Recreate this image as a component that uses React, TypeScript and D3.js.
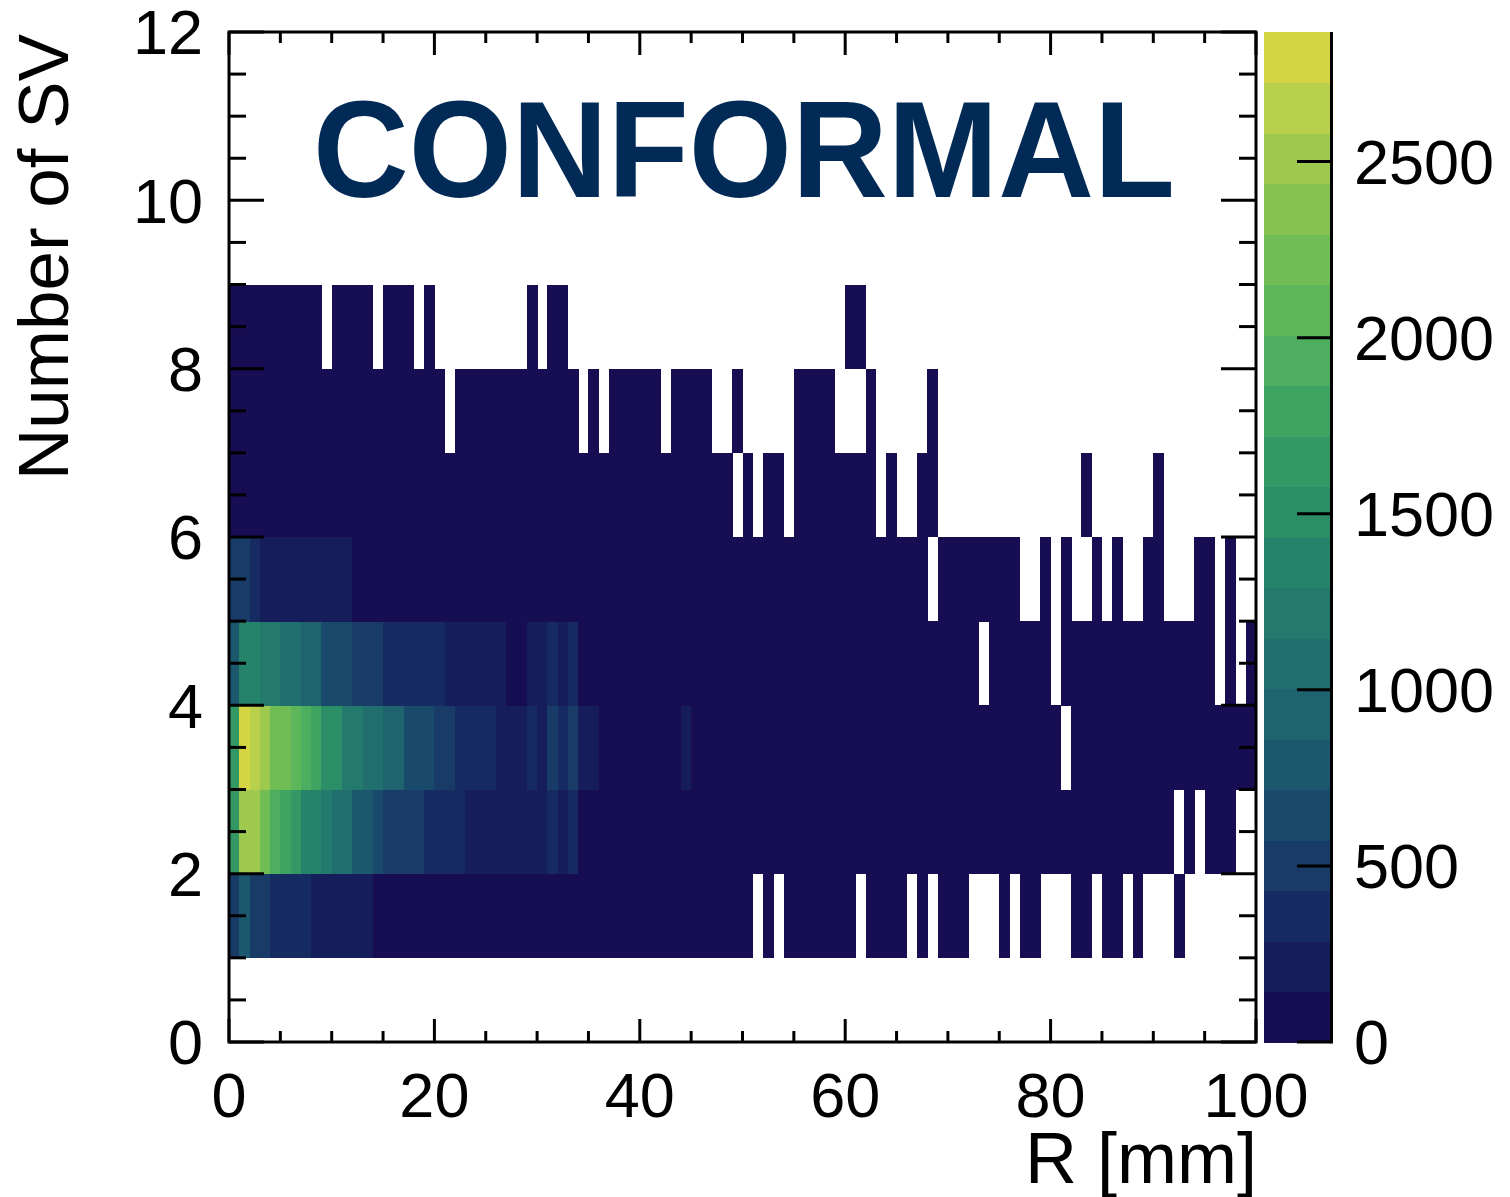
import React from "react";
import * as d3 from "d3";

// Number of secondary vertices (row lower edge) and bin contents for R bins 0..99 mm (1 mm wide)
const nsv1 = [
  500, 790, 480, 450, 380, 340, 320, 300, 270, 250,
  230, 210, 190, 170, 140, 120, 105, 95, 85, 75,
  68, 60, 55, 50, 45, 42, 38, 35, 32, 30,
  28, 26, 24, 22, 20, 19, 18, 17, 16, 15,
  14, 13, 12, 11, 10, 9, 9, 8, 8, 7,
  7, 0, 6, 0, 6, 5, 5, 4, 4, 4,
  3, 0, 3, 3, 2, 2, 0, 2, 0, 2,
  1, 1, 0, 0, 0, 1, 0, 1, 1, 0,
  0, 0, 1, 1, 0, 1, 1, 0, 1, 0,
  0, 0, 1, 0, 0, 0, 0, 0, 0, 0,
];
const nsv2 = [
  1650, 2510, 2480, 2230, 1950, 1800, 1660, 1380, 1350, 1230,
  1090, 1060, 800, 780, 660, 560, 530, 500, 470, 420,
  390, 370, 340, 280, 270, 260, 250, 240, 230, 220,
  200, 300, 210, 290, 140, 130, 120, 110, 100, 95,
  90, 85, 80, 75, 70, 66, 62, 58, 55, 52,
  49, 46, 43, 40, 38, 36, 34, 32, 30, 28,
  26, 25, 24, 22, 21, 20, 19, 18, 17, 16,
  15, 14, 13, 12, 12, 11, 10, 10, 9, 9,
  8, 8, 7, 7, 6, 6, 5, 5, 5, 4,
  4, 3, 0, 3, 0, 2, 2, 2, 0, 0,
];
const nsv3 = [
  1700, 2868, 2700, 2550, 2280, 2240, 2100, 1980, 1830, 1560,
  1520, 1260, 1230, 1110, 1080, 970, 940, 700, 670, 650,
  560, 520, 420, 400, 380, 360, 280, 250, 230, 300,
  220, 450, 330, 440, 200, 170, 140, 130, 120, 110,
  100, 95, 90, 85, 150, 75, 70, 66, 62, 58,
  55, 52, 49, 46, 43, 40, 38, 36, 34, 32,
  30, 28, 26, 25, 24, 22, 21, 20, 19, 18,
  17, 16, 15, 14, 13, 12, 12, 11, 10, 10,
  9, 0, 9, 8, 8, 7, 7, 6, 6, 5,
  5, 5, 4, 4, 4, 3, 3, 3, 2, 2,
];
const nsv4 = [
  800, 1400, 1370, 1250, 1230, 1100, 1080, 960, 940, 700,
  680, 660, 560, 530, 500, 420, 400, 380, 360, 340,
  320, 280, 270, 260, 240, 230, 220, 130, 120, 200,
  190, 300, 180, 290, 110, 100, 95, 90, 85, 80,
  75, 70, 66, 62, 58, 55, 52, 49, 46, 43,
  40, 38, 36, 34, 32, 30, 28, 26, 25, 24,
  22, 21, 20, 19, 18, 17, 16, 15, 14, 13,
  12, 12, 11, 0, 10, 10, 9, 9, 8, 8,
  0, 7, 7, 6, 6, 5, 5, 5, 4, 4,
  4, 3, 3, 3, 2, 2, 0, 2, 0, 1,
];
const nsv5 = [
  520, 500, 400, 280, 270, 260, 250, 240, 230, 220,
  200, 190, 140, 130, 120, 110, 100, 95, 90, 85,
  80, 75, 70, 66, 62, 58, 55, 52, 49, 46,
  43, 40, 38, 36, 34, 32, 30, 28, 26, 25,
  24, 22, 21, 20, 19, 18, 17, 16, 15, 14,
  13, 12, 12, 11, 10, 10, 9, 9, 8, 8,
  7, 7, 6, 6, 5, 5, 5, 4, 0, 4,
  4, 3, 3, 3, 2, 2, 2, 0, 0, 2,
  0, 1, 0, 0, 1, 0, 1, 0, 0, 1,
  1, 0, 0, 0, 1, 1, 0, 1, 0, 0,
];
const nsv6 = [
  120, 110, 100, 95, 90, 85, 80, 75, 70, 66,
  62, 58, 55, 52, 49, 46, 43, 40, 38, 36,
  34, 32, 30, 28, 26, 25, 24, 22, 21, 20,
  19, 18, 17, 16, 15, 14, 13, 12, 12, 11,
  10, 10, 9, 9, 8, 8, 7, 7, 6, 0,
  6, 0, 5, 5, 0, 4, 4, 4, 3, 3,
  3, 2, 2, 0, 2, 0, 0, 1, 1, 0,
  0, 0, 0, 0, 0, 0, 0, 0, 0, 0,
  0, 0, 0, 1, 0, 0, 0, 0, 0, 0,
  1, 0, 0, 0, 0, 0, 0, 0, 0, 0,
];
const nsv7 = [
  40, 38, 36, 34, 32, 30, 28, 26, 25, 24,
  22, 21, 20, 19, 18, 17, 16, 15, 14, 13,
  12, 0, 11, 10, 10, 9, 9, 8, 8, 7,
  7, 6, 6, 5, 0, 5, 0, 4, 4, 4,
  3, 3, 0, 3, 2, 2, 2, 0, 0, 2,
  0, 0, 0, 0, 0, 1, 1, 1, 1, 0,
  0, 0, 1, 0, 0, 0, 0, 0, 1, 0,
  0, 0, 0, 0, 0, 0, 0, 0, 0, 0,
  0, 0, 0, 0, 0, 0, 0, 0, 0, 0,
  0, 0, 0, 0, 0, 0, 0, 0, 0, 0,
];
const nsv8 = [
  12, 11, 10, 9, 8, 8, 7, 6, 6, 0,
  5, 5, 4, 4, 0, 3, 3, 3, 0, 2,
  0, 0, 0, 0, 0, 0, 0, 0, 0, 1,
  0, 1, 1, 0, 0, 0, 0, 0, 0, 0,
  0, 0, 0, 0, 0, 0, 0, 0, 0, 0,
  0, 0, 0, 0, 0, 0, 0, 0, 0, 0,
  1, 1, 0, 0, 0, 0, 0, 0, 0, 0,
  0, 0, 0, 0, 0, 0, 0, 0, 0, 0,
  0, 0, 0, 0, 0, 0, 0, 0, 0, 0,
  0, 0, 0, 0, 0, 0, 0, 0, 0, 0,
];
const rowLows = [1, 2, 3, 4, 5, 6, 7, 8];
const rows = [nsv1, nsv2, nsv3, nsv4, nsv5, nsv6, nsv7, nsv8];

const xTicksMajor = [0, 20, 40, 60, 80, 100];
const yTicksMajor = [0, 2, 4, 6, 8, 10, 12];
const zTicks = [0, 500, 1000, 1500, 2000, 2500];

const palette = [
  "#170d52", "#151e5a", "#162b61", "#183b67", "#194a6b",
  "#1b576d", "#1e636d", "#206e6d", "#22796c", "#25836a",
  "#2b8e67", "#339863", "#3fa362", "#4cae5e", "#5db75a",
  "#70bd56", "#86c251", "#9ec94f", "#b9d04c", "#d5d544",
];

const FONT = "'Liberation Sans', Arial, Helvetica, sans-serif";

export default function App() {
  const L = 229, R = 1256, T = 32, B = 1042;
  const x = d3.scaleLinear().domain([0, 100]).range([L, R]);
  const y = d3.scaleLinear().domain([0, 12]).range([B, T]);
  const zmax = d3.max(rows.flat()) as number;
  const color = d3.scaleQuantize<string>().domain([0, zmax]).range(palette);
  const z = d3.scaleLinear().domain([0, zmax]).range([B, T]);
  const CB0 = 1264, CB1 = 1331;

  const cells: JSX.Element[] = [];
  rows.forEach((vals, r) => {
    const lo = rowLows[r];
    vals.forEach((v, i) => {
      if (v <= 0) return;
      cells.push(
        <rect
          key={`${r}-${i}`}
          x={x(i)}
          y={y(lo + 1)}
          width={x(i + 1) - x(i) + 0.4}
          height={y(lo) - y(lo + 1) + 0.4}
          fill={color(v)}
        />
      );
    });
  });

  const xMinor = d3.range(0, 100.001, 5);
  const yMinor = d3.range(0, 12.001, 0.5);
  const bandStep = zmax / palette.length;

  return (
    <svg
      width={1510}
      height={1197}
      style={{ position: "absolute", left: 0, top: 0, background: "#fff" }}
      fontFamily={FONT}
    >
      <rect x={0} y={0} width={1510} height={1197} fill="#fff" />
      <g shapeRendering="crispEdges">{cells}</g>

      {/* ticks */}
      <g stroke="#000" strokeWidth={3}>
        {yMinor.map((v) => {
          const major = v % 2 === 0;
          const len = major ? 35 : 17;
          return (
            <g key={`yt${v}`}>
              <line x1={L} x2={L + len} y1={y(v)} y2={y(v)} />
              <line x1={R} x2={R - len} y1={y(v)} y2={y(v)} />
            </g>
          );
        })}
        {xMinor.map((v) => {
          const major = v % 20 === 0;
          const len = major ? 23 : 11;
          return (
            <g key={`xt${v}`}>
              <line x1={x(v)} x2={x(v)} y1={B} y2={B - len} />
              <line x1={x(v)} x2={x(v)} y1={T} y2={T + len} />
            </g>
          );
        })}
      </g>
      <rect x={L} y={T} width={R - L} height={B - T} fill="none" stroke="#000" strokeWidth={3} />

      {/* tick labels */}
      <g fontSize={63} fill="#000">
        {yTicksMajor.map((v) => (
          <text key={`yl${v}`} x={203} y={y(v)} dy="0.355em" textAnchor="end">
            {v}
          </text>
        ))}
        {xTicksMajor.map((v) => (
          <text key={`xl${v}`} x={x(v)} y={1117} textAnchor="middle">
            {v}
          </text>
        ))}
        {zTicks.map((v) => (
          <text key={`zl${v}`} x={1354} y={z(v)} dy="0.355em" textAnchor="start">
            {v}
          </text>
        ))}
      </g>

      {/* axis titles */}
      <text x={1257} y={1183} fontSize={72} textAnchor="end" fill="#000">
        R [mm]
      </text>
      <text
        transform="translate(68,34) rotate(-90)"
        fontSize={71}
        textAnchor="end"
        fill="#000"
      >
        Number of SV
      </text>

      {/* label */}
      <text
        x={313}
        y={197}
        fontSize={138}
        fontWeight="bold"
        fill="#022a56"
        textLength={862}
        lengthAdjust="spacingAndGlyphs"
      >
        CONFORMAL
      </text>

      {/* colour bar */}
      <g shapeRendering="crispEdges">
        {palette.map((c, k) => (
          <rect
            key={`cb${k}`}
            x={CB0}
            width={CB1 - CB0}
            y={z((k + 1) * bandStep)}
            height={z(k * bandStep) - z((k + 1) * bandStep) + 0.5}
            fill={c}
          />
        ))}
      </g>
      <line x1={CB1 + 0.5} x2={CB1 + 0.5} y1={T} y2={B + 1.5} stroke="#000" strokeWidth={3} />
      <g stroke="#000" strokeWidth={3}>
        {zTicks.map((v) => (
          <line key={`zt${v}`} x1={CB1 - 34} x2={CB1} y1={z(v)} y2={z(v)} />
        ))}
      </g>
    </svg>
  );
}
